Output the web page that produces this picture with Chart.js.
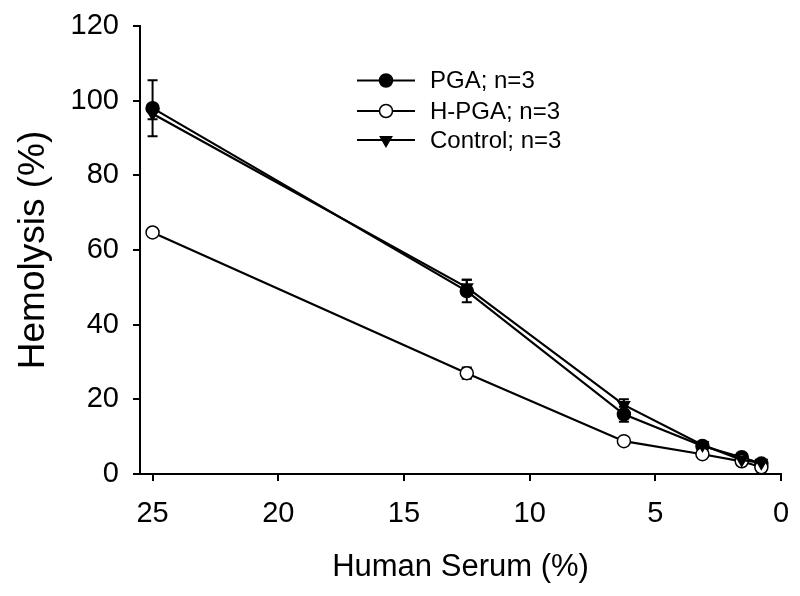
<!DOCTYPE html>
<html>
<head>
<meta charset="utf-8">
<script src="https://cdn.jsdelivr.net/npm/chart.js@4/dist/chart.umd.min.js"></script>
<style>
  html, body { margin: 0; padding: 0; background: #fff; }
  #wrap { width: 800px; height: 596px; position: relative; }
</style>
</head>
<body>
<div id="wrap"><canvas id="c" width="800" height="596"></canvas></div>
<script>
// ---- data ----
const serum = [25, 12.5, 6.25, 3.125, 1.5625, 0.78125];
const pga = [98, 49, 16, 7.5, 4.5, 2.8];
const pgaErr = [7.5, 3, 2, 0.6, 0.5, 0.5];
const hpga = [64.7, 27, 8.8, 5.3, 3.4, 1.8];
const hpgaErr = [0.5, 1.5, 0.5, 0.5, 0.5, 0.5];
const control = [96.5, 50, 18.5, 7.8, 3.8, 3.0];
const controlErr = [1.5, 2, 1.5, 0.5, 0.5, 0.5];
const xTicks = [0, 5, 10, 15, 20, 25];
const seriesLabels = ['PGA; n=3', 'H-PGA; n=3', 'Control; n=3'];

const FONT = '"Liberation Sans", Arial, Helvetica, sans-serif';

function pts(ys) { return serum.map((x, i) => ({ x: x, y: ys[i] })); }

const datasets = [
  { label: seriesLabels[2], data: pts(control), err: controlErr, pointStyle: 'triangle', rotation: 180,
    pointRadius: 6.5, backgroundColor: '#000', borderColor: '#000', pointBorderColor: '#000', pointBackgroundColor: '#000' },
  { label: seriesLabels[1], data: pts(hpga), err: hpgaErr, pointStyle: 'circle', rotation: 0,
    pointRadius: 6.5, backgroundColor: '#fff', borderColor: '#000', pointBorderColor: '#000', pointBackgroundColor: '#fff' },
  { label: seriesLabels[0], data: pts(pga), err: pgaErr, pointStyle: 'circle', rotation: 0,
    pointRadius: 6.5, backgroundColor: '#000', borderColor: '#000', pointBorderColor: '#000', pointBackgroundColor: '#000' }
].map(d => Object.assign({ showLine: true, borderWidth: 2.2, pointBorderWidth: 1.5, pointHoverRadius: 6, tension: 0 }, d));

const errorBars = {
  id: 'errorBars',
  beforeDatasetsDraw(chart) {
    const ctx = chart.ctx, xs = chart.scales.x, ys = chart.scales.y;
    ctx.save();
    ctx.strokeStyle = '#000';
    ctx.lineWidth = 2;
    chart.data.datasets.forEach(ds => {
      ds.data.forEach((p, i) => {
        const e = ds.err[i];
        if (!e) return;
        const px = xs.getPixelForValue(p.x);
        const top = ys.getPixelForValue(p.y + e);
        const bot = ys.getPixelForValue(p.y - e);
        ctx.beginPath();
        ctx.moveTo(px, top); ctx.lineTo(px, bot);
        ctx.moveTo(px - 5, top); ctx.lineTo(px + 5, top);
        ctx.moveTo(px - 5, bot); ctx.lineTo(px + 5, bot);
        ctx.stroke();
      });
    });
    ctx.restore();
  }
};

const insideLegend = {
  id: 'insideLegend',
  afterDraw(chart) {
    const ctx = chart.ctx;
    const order = [2, 1, 0];
    const x0 = 357, x1 = 415, xm = 386, tx = 430;
    const rows = [80.5, 111, 140];
    ctx.save();
    order.forEach((di, r) => {
      const ds = chart.data.datasets[di];
      const y = rows[r];
      ctx.strokeStyle = '#000';
      ctx.lineWidth = 2.2;
      ctx.beginPath(); ctx.moveTo(x0, y); ctx.lineTo(x1, y); ctx.stroke();
      ctx.fillStyle = ds.pointBackgroundColor;
      ctx.strokeStyle = '#000';
      ctx.lineWidth = 1.5;
      Chart.helpers.drawPoint(ctx, {
        pointStyle: ds.pointStyle, rotation: ds.rotation, radius: ds.pointRadius, borderWidth: 1.5
      }, xm, y);
      ctx.fillStyle = '#000';
      ctx.font = '24px ' + FONT;
      ctx.textBaseline = 'middle';
      ctx.textAlign = 'left';
      ctx.fillText(ds.label, tx, y + 1);
    });
    ctx.restore();
  }
};

new Chart(document.getElementById('c'), {
  type: 'scatter',
  data: { datasets: datasets },
  options: {
    responsive: false,
    animation: false,
    events: [],
    layout: { padding: { left: 12, right: 19, top: 26, bottom: 10 } },
    plugins: { legend: { display: false }, tooltip: { enabled: false } },
    scales: {
      x: {
        type: 'linear', min: 0, max: 25.5, reverse: true,
        afterBuildTicks(s) { s.ticks = xTicks.map(v => ({ value: v })); },
        afterFit(s) { s.height = 112; s.paddingLeft = 0; s.paddingRight = 0; },
        border: { display: true, color: '#000', width: 2 },
        grid: { drawOnChartArea: false, color: '#000', tickColor: '#000', tickLength: 7, lineWidth: 2 },
        ticks: { color: '#000', font: { family: FONT, size: 29 }, padding: 16, maxRotation: 0 },
        title: { display: true, text: 'Human Serum (%)', color: '#000',
                 font: { family: FONT, size: 31 }, padding: { top: 6, bottom: 0 } }
      },
      y: {
        type: 'linear', min: 0, max: 120,
        ticks: { stepSize: 20, color: '#000', font: { family: FONT, size: 29 }, padding: 14 },
        afterFit(s) { s.width = 128; s.paddingTop = 0; s.paddingBottom = 0; },
        border: { display: true, color: '#000', width: 2 },
        grid: { drawOnChartArea: false, color: '#000', tickColor: '#000', tickLength: 7, lineWidth: 2 },
        title: { display: true, text: 'Hemolysis (%)', color: '#000',
                 font: { family: FONT, size: 37 }, padding: { top: 0, bottom: 0 } }
      }
    }
  },
  plugins: [errorBars, insideLegend]
});
</script>
</body>
</html>
